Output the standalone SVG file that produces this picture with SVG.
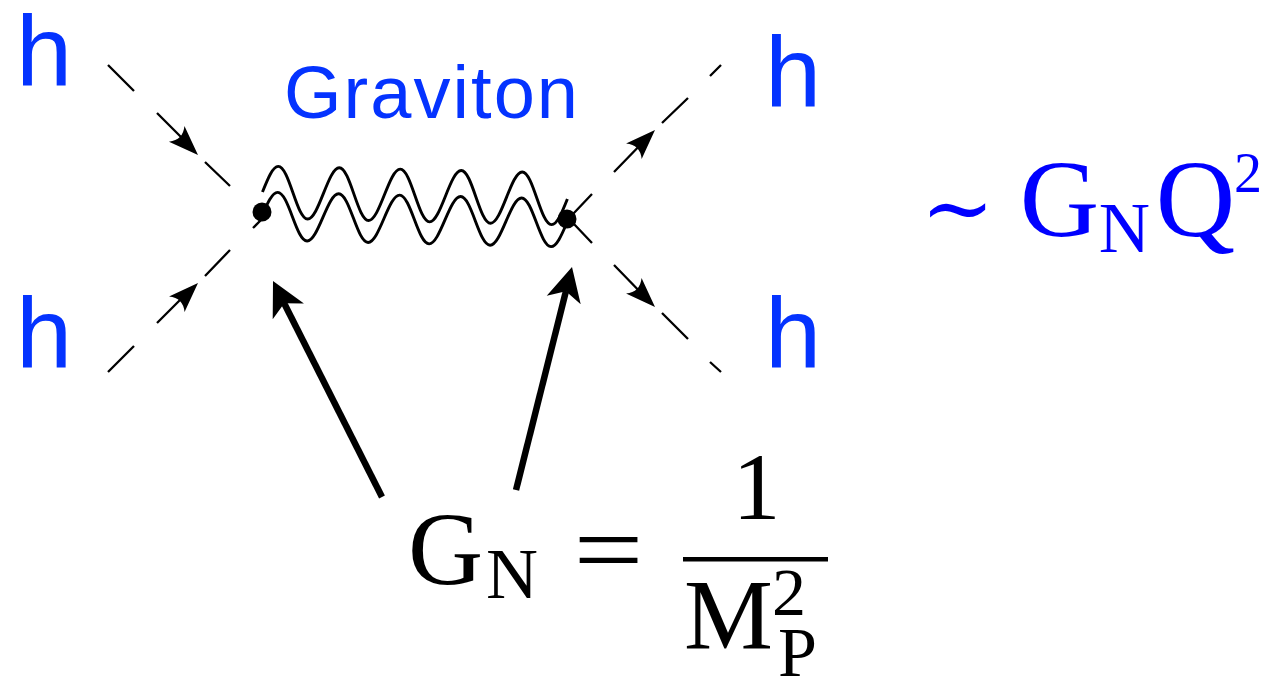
<svg xmlns="http://www.w3.org/2000/svg" width="1271" height="677" viewBox="0 0 1271 677">
<style>
.h{font-family:"Liberation Sans",Arial,sans-serif;font-size:101px;fill:#0433ff}
.lbl{font-family:"Liberation Sans",Arial,sans-serif;font-size:74px;fill:#0433ff}
.m{font-family:"Liberation Serif","Times New Roman",serif;text-anchor:middle}
.mb{fill:#0000ff}
.mk{fill:#000}
.dash{stroke:#000;stroke-width:2.3;fill:none;stroke-linecap:butt}
.wave{stroke:#000;stroke-width:2.9;fill:none}
.big{stroke:#000;stroke-width:6.5;fill:none;stroke-linecap:butt}
</style>
<defs>
<path id="ah" d="M0,0 L-30,-11 Q-21,0 -30,11 Z" fill="#000"/>
<path id="bh" d="M0,0 L-34,-17.5 L-25,0 L-34,17.5 Z" fill="#000"/>
</defs>
<rect width="1271" height="677" fill="#fff"/>

<g id="connectors">
  <g id="line-in-top">
    <path class="dash" d="M108,65 L134,91 M157,113 L190,146 M205,162 L230,186"/>
    <use href="#ah" transform="translate(198,155) rotate(44.8)"/>
  </g>
  <g id="line-in-bottom">
    <path class="dash" d="M108,372 L134,346 M157,323 L190,290 M205,276 L230,250 M253,228 L264,217"/>
    <use href="#ah" transform="translate(198,283) rotate(-45)"/>
  </g>
  <g id="line-out-top">
    <path class="dash" d="M573,214 L592,194 M614,172 L648,137 M662,123 L688,98 M710,76 L721,65"/>
    <use href="#ah" transform="translate(655,130) rotate(-45.2)"/>
  </g>
  <g id="line-out-bottom">
    <path class="dash" d="M573,223 L592,243 M614,265 L648,300 M662,313 L688,339 M710,362 L721,372"/>
    <use href="#ah" transform="translate(655,307) rotate(45)"/>
  </g>
  <g id="graviton-propagator" transform="translate(262,212) rotate(1.315)">
    <path class="wave" d="M0,-20
      c4.97,-13.32 9.73,-26 15.25,-26 c5.52,0 10.28,12.68 15.25,26 c4.97,13.32 9.73,26 15.25,26 c5.52,0 10.28,-12.68 15.25,-26
      c4.97,-13.32 9.73,-26 15.25,-26 c5.52,0 10.28,12.68 15.25,26 c4.97,13.32 9.73,26 15.25,26 c5.52,0 10.28,-12.68 15.25,-26
      c4.97,-13.32 9.73,-26 15.25,-26 c5.52,0 10.28,12.68 15.25,26 c4.97,13.32 9.73,26 15.25,26 c5.52,0 10.28,-12.68 15.25,-26
      c4.97,-13.32 9.73,-26 15.25,-26 c5.52,0 10.28,12.68 15.25,26 c4.97,13.32 9.73,26 15.25,26 c5.52,0 10.28,-12.68 15.25,-26
      c4.97,-13.32 9.73,-26 15.25,-26 c5.52,0 10.28,12.68 15.25,26 c4.97,13.32 9.73,26 15.25,26 c5.52,0 10.28,-12.68 15.25,-26"/>
    <path class="wave" d="M0,4
      c4.97,-12.3 9.73,-24 15.25,-24 c5.52,0 10.28,11.7 15.25,24 c4.97,12.3 9.73,24 15.25,24 c5.52,0 10.28,-11.7 15.25,-24
      c4.97,-12.3 9.73,-24 15.25,-24 c5.52,0 10.28,11.7 15.25,24 c4.97,12.3 9.73,24 15.25,24 c5.52,0 10.28,-11.7 15.25,-24
      c4.97,-12.3 9.73,-24 15.25,-24 c5.52,0 10.28,11.7 15.25,24 c4.97,12.3 9.73,24 15.25,24 c5.52,0 10.28,-11.7 15.25,-24
      c4.97,-12.3 9.73,-24 15.25,-24 c5.52,0 10.28,11.7 15.25,24 c4.97,12.3 9.73,24 15.25,24 c5.52,0 10.28,-11.7 15.25,-24
      c4.97,-12.3 9.73,-24 15.25,-24 c5.52,0 10.28,11.7 15.25,24 c4.97,12.3 9.73,24 15.25,24 c5.52,0 10.28,-11.7 15.25,-24"/>
  </g>
  <g id="arrow-coupling-left">
    <line class="big" x1="382" y1="497" x2="284" y2="303"/>
    <use href="#bh" transform="translate(273,281) rotate(243.2)"/>
  </g>
  <g id="arrow-coupling-right">
    <line class="big" x1="516" y1="490" x2="566" y2="291"/>
    <use href="#bh" transform="translate(572,267) rotate(-75.9)"/>
  </g>
</g>

<g id="h-in-top"><text class="h" x="16" y="86">h</text></g>
<g id="h-in-bottom"><text class="h" x="16" y="368">h</text></g>
<g id="h-out-top"><text class="h" x="765" y="107">h</text></g>
<g id="h-out-bottom"><text class="h" x="765" y="368">h</text></g>

<g id="vertex-left"><circle cx="262" cy="212" r="9.5" fill="#000"/></g>
<g id="vertex-right"><circle cx="567" cy="219" r="9.5" fill="#000"/></g>

<g id="graviton-label"><text class="lbl" x="284" y="118" textLength="294">Graviton</text></g>

<g id="scaling">
  <text class="m mb" x="957.5" y="238" style="font-family:'DejaVu Serif',serif" font-size="88">∼</text>
  <text class="m mb" x="1059.5" y="236" font-size="110">G</text>
  <text class="m mb" x="1124.5" y="252" font-size="71">N</text>
  <text class="m mb" x="1195.5" y="236" font-size="110">Q</text>
  <text class="m mb" x="1248" y="192" font-size="56">2</text>
</g>

<g id="newton-constant">
  <text class="m mk" x="445.5" y="584" font-size="104">G</text>
  <text class="m mk" x="512" y="598" font-size="72">N</text>
  <text class="m mk" x="608.5" y="585" font-size="104" textLength="70" lengthAdjust="spacingAndGlyphs">=</text>
  <text class="m mk" x="756.5" y="519" font-size="96">1</text>
  <rect x="683" y="557" width="145" height="4.5" fill="#000"/>
  <text class="m mk" x="728.5" y="648" font-size="100">M</text>
  <text class="m mk" x="789" y="615" font-size="68">2</text>
  <text class="m mk" x="797.5" y="676" font-size="70">P</text>
</g>
</svg>
